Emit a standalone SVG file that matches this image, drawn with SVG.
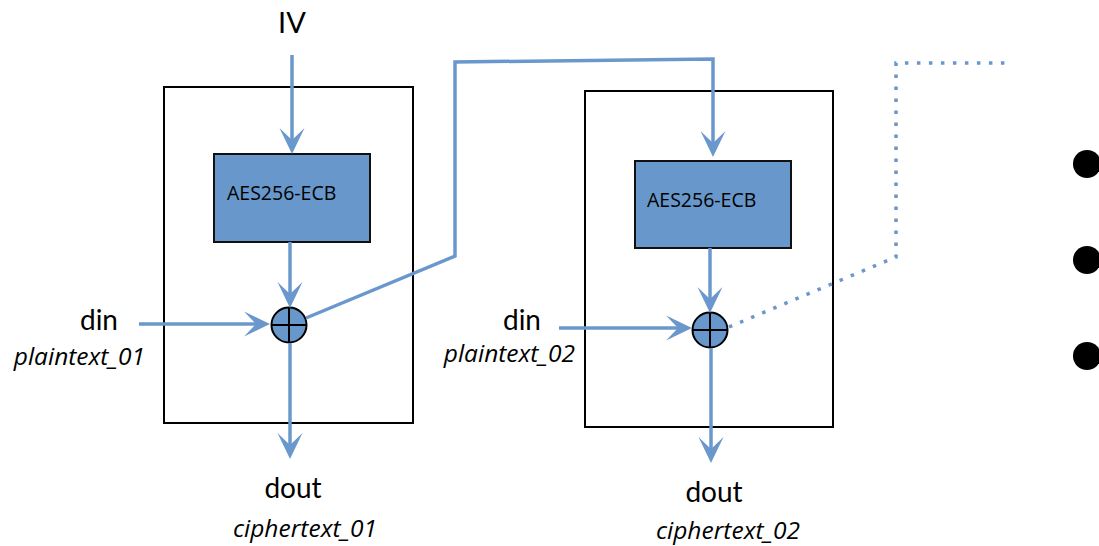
<svg xmlns="http://www.w3.org/2000/svg" width="1099" height="546" viewBox="0 0 1099 546">
<style>
.box{fill:none;stroke:#000;stroke-width:2}
.aes{fill:#6897cb;stroke:#111;stroke-width:2}
.wire{fill:none;stroke:#6b98cc;stroke-width:3.5}
.dot{fill:none;stroke:#6b98cc;stroke-width:3.5;stroke-dasharray:3.5 8.5}
.xor{fill:#6897cb;stroke:#000;stroke-width:2}
.lbl{font-family:Lato,"Open Sans",sans-serif;fill:#000}
.it{font-family:"Open Sans","Noto Sans",sans-serif;font-style:italic;fill:#000;font-size:24.5px}
.aest{font-family:"Open Sans","Noto Sans",sans-serif;font-size:19.5px;fill:#000}
</style>
<defs>
<marker id="ah" markerUnits="userSpaceOnUse" markerWidth="40" markerHeight="40" viewBox="-20 -20 40 40" refX="0" refY="0" orient="auto" overflow="visible">
<path d="M10,0 L-16,-12.5 L-4,0 L-16,12.5 Z" fill="#6b98cc"/>
</marker>
</defs>
<g id="block1">
<rect class="box" x="164" y="87" width="249" height="336"/>
<rect class="aes" x="214" y="154" width="156" height="88"/>
<text class="aest" x="227" y="200">AES256-ECB</text>
</g>
<g id="xor1">
<circle class="xor" cx="289" cy="325" r="17.5"/>
<path d="M271.5,325 H306.5 M289,307.5 V342.5" stroke="#000" stroke-width="2"/>
</g>
<g id="block2">
<rect class="box" x="585" y="91" width="248" height="336"/>
<rect class="aes" x="635" y="161" width="156" height="87"/>
<text class="aest" x="647" y="207">AES256-ECB</text>
</g>
<g id="xor2">
<circle class="xor" cx="710" cy="330" r="17.5"/>
<path d="M692.5,330 H727.5 M710,312.5 V347.5" stroke="#000" stroke-width="2"/>
</g>
<g id="labels">
<text class="lbl" x="292" y="33" font-size="29" text-anchor="middle">IV</text>
<text class="lbl" x="118" y="330" font-size="28" text-anchor="end">din</text>
<text class="it" x="145" y="365" text-anchor="end">plaintext_01</text>
<text class="lbl" x="293" y="498" font-size="28" text-anchor="middle">dout</text>
<text class="it" x="305" y="537" text-anchor="middle">ciphertext_01</text>
<text class="lbl" x="541" y="330" font-size="28" text-anchor="end">din</text>
<text class="it" x="575" y="362" text-anchor="end">plaintext_02</text>
<text class="lbl" x="714" y="502" font-size="28" text-anchor="middle">dout</text>
<text class="it" x="728" y="539" text-anchor="middle">ciphertext_02</text>
</g>
<g id="connectors">
<path class="wire" d="M292,55 V144" marker-end="url(#ah)"/>
<path class="wire" d="M290,242 V298" marker-end="url(#ah)"/>
<path class="wire" d="M139,324 H260" marker-end="url(#ah)"/>
<path class="wire" d="M290,343 V449" marker-end="url(#ah)"/>
<path class="wire" d="M306,318 L455,256 V62 L713,59 V147" marker-end="url(#ah)"/>
<path class="wire" d="M710,248 V303" marker-end="url(#ah)"/>
<path class="wire" d="M559,328 H682" marker-end="url(#ah)"/>
<path class="wire" d="M711,348 V453" marker-end="url(#ah)"/>
<path class="dot" d="M729,327 L896,257 V63 H1005"/>
</g>
<g id="ellipsis">
<circle cx="1087" cy="164" r="14" fill="#000"/>
<circle cx="1087" cy="260" r="14" fill="#000"/>
<circle cx="1087" cy="356" r="14" fill="#000"/>
</g>
</svg>
